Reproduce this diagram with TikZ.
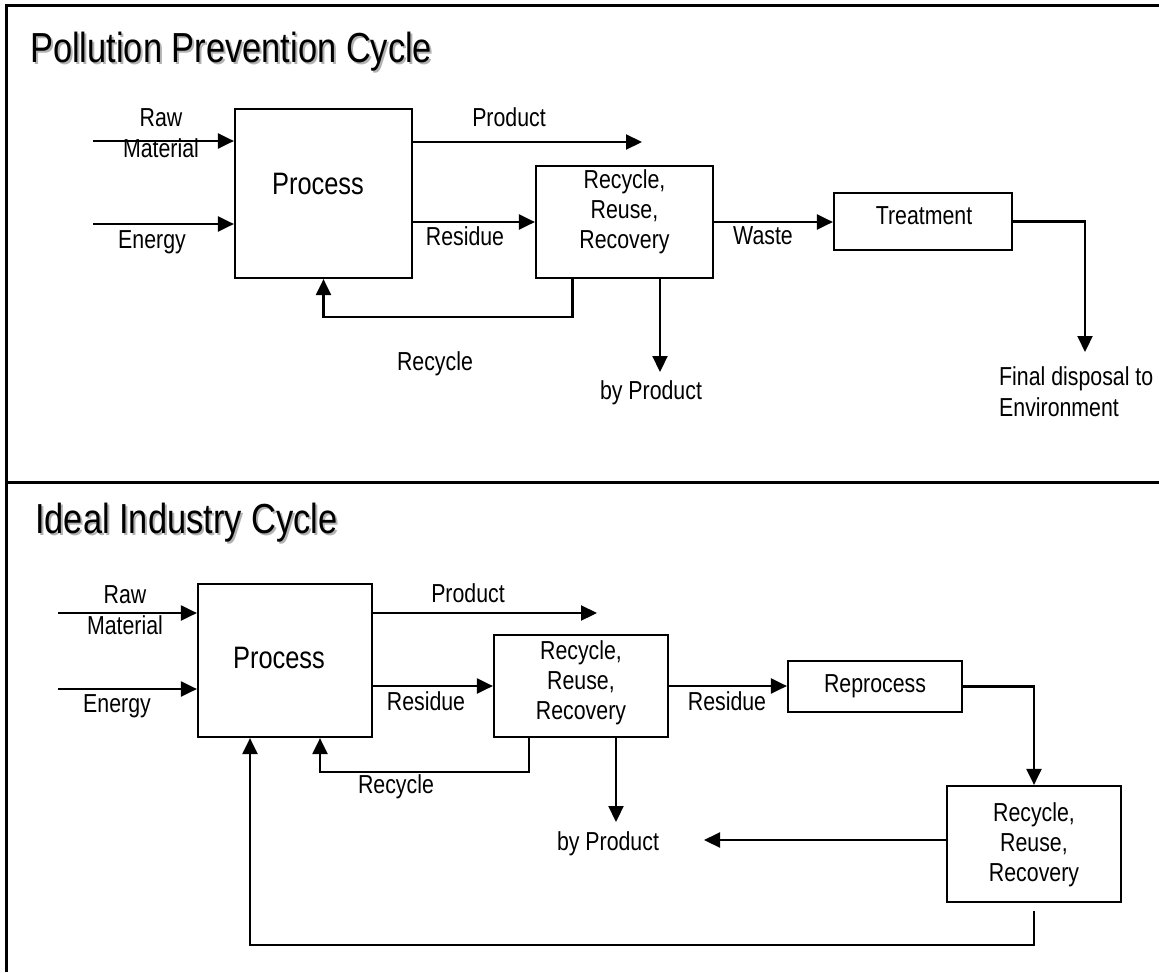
\documentclass[tikz,border=0pt]{standalone}
\usepackage{fontspec}
\setmainfont{Liberation Sans}[FakeStretch=0.82]
\usetikzlibrary{arrows.meta}

\begin{document}
\begin{tikzpicture}[
        x=1pt, y=-1pt,
        box/.style={draw, line width=2.2pt, rectangle, inner sep=0pt},
        boxtext/.style={align=center, inner sep=0pt, font=\fontsize{26}{30}\selectfont},
        proctext/.style={inner sep=0pt, font=\fontsize{31}{36}\selectfont},
        lbl/.style={align=center, inner sep=0pt, font=\fontsize{26}{31}\selectfont},
        heading/.style={anchor=base west, inner sep=0pt, font=\fontsize{42}{50}\selectfont},
        flow/.style={line width=2.2pt, -{Triangle[length=16pt,width=15pt]}},
        frame/.style={line width=3pt}
        ]
        \useasboundingbox (0,0) rectangle (1159,972);
        \draw[frame] (6,972) -- (6,5) -- (1159,5);
        \draw[frame] (6,482) -- (1159,482);

        % Pollution prevention
        \node[heading, text=black!30] (shadow1) at (32,64) {Pollution Prevention Cycle};
        \node[heading] (title1) at (30,62) {Pollution Prevention Cycle};
        \node[box, minimum width=177pt, minimum height=169pt] (proc1) at (323.5,193.5) {};
        \node[proctext] (proc1txt) at (318,184) {Process};
        \node[box, minimum width=177pt, minimum height=112pt] (rrr1) at (624.5,222) {};
        \node[boxtext] (rrr1txt) at (624.5,212) {Recycle,\\Reuse,\\Recovery};
        \node[box, minimum width=178pt, minimum height=57pt] (treat1) at (923,221.5) {};
        \node[boxtext] (treat1txt) at (924,215.5) {Treatment};
        \node[lbl] (raw1lbl) at (161,133) {Raw\\Material};
        \node[lbl] (en1lbl) at (152,242) {Energy};
        \node[lbl] (prod1lbl) at (509,117) {Product};
        \node[lbl] (res1lbl) at (465,236) {Residue};
        \node[lbl] (waste1lbl) at (763,236) {Waste};
        \node[lbl] (rec1lbl) at (435,364) {Recycle};
        \node[lbl] (byp1lbl) at (651,393) {by Product};
        \node[lbl, align=left, anchor=west] (disp1lbl) at (999,392) {Final disposal to\\Environment};
        \coordinate (raw1) at (93,141);
        \coordinate (en1) at (93,224);
        \coordinate (prod1) at (642,142);
        \coordinate (byp1) at (660,372);
        \coordinate (disp1) at (1085,352);
        \draw[flow] (raw1) -- (raw1 -| proc1.west);
        \draw[flow] (en1) -- (en1 -| proc1.west);
        \draw[flow] (prod1 -| proc1.east) -- (prod1);
        \draw[flow] (rrr1.west -| proc1.east) -- (rrr1.west);
        \draw[flow] ([xshift=-52pt]rrr1.south) -- ++(0,38) -| (proc1.south);
        \draw[flow] (byp1 |- rrr1.south) -- (byp1);
        \draw[flow] (rrr1.east) -- (rrr1.east -| treat1.west);
        \draw[flow] (treat1.east) -| (disp1);

        % Ideal industry
        \node[heading, text=black!30] (shadow2) at (37,535) {Ideal Industry Cycle};
        \node[heading] (title2) at (35,533) {Ideal Industry Cycle};
        \node[box, minimum width=174pt, minimum height=153pt] (proc2) at (285,660.5) {};
        \node[proctext] (proc2txt) at (279,658) {Process};
        \node[box, minimum width=174pt, minimum height=102pt] (rrr2) at (581,686) {};
        \node[boxtext] (rrr2txt) at (581,683) {Recycle,\\Reuse,\\Recovery};
        \node[box, minimum width=174pt, minimum height=51pt] (repr) at (875,686.5) {};
        \node[boxtext] (reprtxt) at (875,686) {Reprocess};
        \node[box, minimum width=174pt, minimum height=116pt] (rrr3) at (1034,844) {};
        \node[boxtext] (rrr3txt) at (1034,845) {Recycle,\\Reuse,\\Recovery};
        \node[lbl] (raw2lbl) at (125,610) {Raw\\Material};
        \node[lbl] (en2lbl) at (117,706) {Energy};
        \node[lbl] (prod2lbl) at (468,593) {Product};
        \node[lbl] (res2lbl) at (426,701) {Residue};
        \node[lbl] (res3lbl) at (727,701) {Residue};
        \node[lbl] (rec2lbl) at (396,787) {Recycle};
        \node[lbl] (byp2lbl) at (608,844) {by Product};
        \coordinate (raw2) at (58,613);
        \coordinate (en2) at (58,689);
        \coordinate (prod2) at (597,613);
        \coordinate (byp2) at (616,822);
        \coordinate (byp3) at (704,840);
        \draw[flow] (raw2) -- (raw2 -| proc2.west);
        \draw[flow] (en2) -- (en2 -| proc2.west);
        \draw[flow] (prod2 -| proc2.east) -- (prod2);
        \draw[flow] (rrr2.west -| proc2.east) -- (rrr2.west);
        \draw[flow] ([xshift=-52pt]rrr2.south) -- ++(0,34) -| ([xshift=35pt]proc2.south);
        \draw[flow] (byp2 |- rrr2.south) -- (byp2);
        \draw[flow] (rrr2.east) -- (rrr2.east -| repr.west);
        \draw[flow] (repr.east) -| (rrr3.north);
        \draw[flow] (byp3 -| rrr3.west) -- (byp3);
        \draw[flow] ([yshift=-8pt]rrr3.south) -- ++(0,34) -| ([xshift=-35pt]proc2.south);
\end{tikzpicture}
\end{document}
